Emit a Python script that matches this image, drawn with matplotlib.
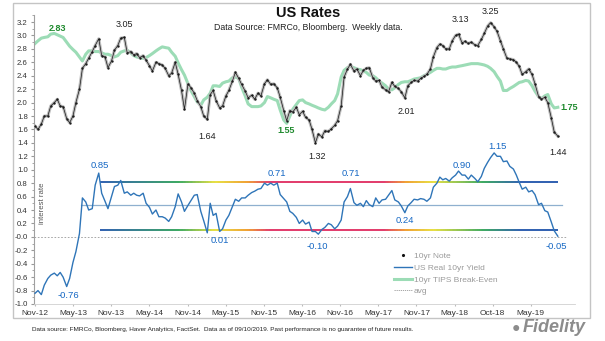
import numpy as np
import pandas as pd
import matplotlib
matplotlib.use("Agg")
import matplotlib.pyplot as plt
import matplotlib.dates as mdates
from matplotlib.collections import LineCollection
from matplotlib.colors import LinearSegmentedColormap
from matplotlib.lines import Line2D
from matplotlib.patches import Rectangle

plt.rcParams['font.family'] = ['Liberation Sans', 'DejaVu Sans']
plt.rcParams['axes.unicode_minus'] = False

# semi-monthly readings, Nov 2012 .. Sep 2019
dates = pd.date_range('2012-11-01', '2019-09-01', freq='SMS')

note_10yr = [
    1.65, 1.60, 1.68, 1.80, 1.80, 1.95, 2.00, 2.05, 1.95, 1.94,
    1.76, 1.70, 1.80, 2.00, 2.20, 2.51, 2.58, 2.66, 2.76, 2.85,
    2.95, 2.70, 2.68, 2.52, 2.62, 2.78, 2.85, 2.96, 2.97, 2.74,
    2.76, 2.71, 2.73, 2.67, 2.70, 2.63, 2.55, 2.47, 2.60, 2.58,
    2.56, 2.51, 2.40, 2.44, 2.60, 2.42, 2.18, 1.90, 2.28, 2.22,
    2.14, 2.03, 1.94, 1.80, 1.75, 2.12, 2.18, 2.03, 1.92, 1.95,
    2.10, 2.18, 2.32, 2.45, 2.36, 2.27, 2.17, 2.07, 2.11, 2.05,
    2.14, 2.10, 2.28, 2.34, 2.27, 2.28, 2.22, 2.08, 1.88, 1.73,
    1.88, 1.86, 1.93, 1.82, 1.87, 1.78, 1.74, 1.60, 1.40, 1.53,
    1.49, 1.58, 1.57, 1.61, 1.66, 1.73, 1.95, 2.38, 2.50, 2.57,
    2.47, 2.50, 2.40, 2.48, 2.51, 2.52, 2.37, 2.32, 2.33, 2.23,
    2.19, 2.16, 2.30, 2.24, 2.21, 2.16, 2.07, 2.25, 2.30, 2.33,
    2.32, 2.36, 2.39, 2.42, 2.50, 2.68, 2.82, 2.87, 2.85, 2.80,
    2.80, 2.92, 3.00, 3.02, 2.89, 2.91, 2.88, 2.90, 2.86, 2.85,
    2.94, 3.03, 3.14, 3.19, 3.13, 3.06, 2.92, 2.80, 2.66, 2.65,
    2.64, 2.60, 2.54, 2.42, 2.46, 2.50, 2.42, 2.28, 2.09, 2.05,
    2.08, 2.00, 1.77, 1.56, 1.50,
]

tips_breakeven = [
    2.88, 2.92, 2.96, 2.97, 2.98, 3.02, 3.03, 3.01, 2.99, 2.97,
    2.90, 2.84, 2.79, 2.75, 2.68, 2.62, 2.72, 2.77, 2.77, 2.76,
    2.76, 2.74, 2.72, 2.72, 2.70, 2.68, 2.70, 2.75, 2.77, 2.78,
    2.74, 2.70, 2.68, 2.67, 2.66, 2.67, 2.70, 2.73, 2.77, 2.80,
    2.83, 2.82, 2.81, 2.75, 2.69, 2.59, 2.49, 2.41, 2.28, 2.18,
    2.09, 2.01, 1.96, 2.04, 2.08, 2.14, 2.25, 2.25, 2.24, 2.29,
    2.31, 2.32, 2.37, 2.38, 2.36, 2.23, 2.10, 1.98, 1.94, 1.94,
    1.94, 1.95, 2.00, 2.09, 2.07, 2.05, 2.03, 1.89, 1.74, 1.69,
    1.80, 1.90, 1.97, 2.03, 2.04, 2.00, 1.98, 1.96, 1.94, 1.92,
    1.90, 1.89, 1.93, 1.98, 2.03, 2.13, 2.38, 2.48, 2.52, 2.54,
    2.52, 2.50, 2.49, 2.47, 2.45, 2.41, 2.40, 2.37, 2.32, 2.29,
    2.25, 2.20, 2.19, 2.22, 2.27, 2.30, 2.31, 2.31, 2.33, 2.35,
    2.36, 2.37, 2.40, 2.42, 2.45, 2.48, 2.51, 2.51, 2.50, 2.50,
    2.52, 2.53, 2.53, 2.54, 2.55, 2.56, 2.57, 2.58, 2.58, 2.58,
    2.57, 2.56, 2.54, 2.51, 2.46, 2.39, 2.32, 2.18, 2.18, 2.21,
    2.24, 2.27, 2.30, 2.31, 2.33, 2.32, 2.25, 2.17, 2.09, 2.06,
    2.10, 2.12, 1.98, 1.92, 1.93,
]

real_10yr = [
    -0.84, -0.80, -0.86, -0.72, -0.62, -0.57, -0.54, -0.58, -0.53, -0.60,
    -0.74, -0.62, -0.38, -0.22, 0.05, 0.58, 0.52, 0.40, 0.42, 0.77,
    0.95, 0.65, 0.53, 0.42, 0.60, 0.75, 0.77, 0.84, 0.65, 0.67,
    0.62, 0.65, 0.62, 0.61, 0.65, 0.50, 0.44, 0.34, 0.40, 0.30,
    0.30, 0.28, 0.23, 0.30, 0.45, 0.64, 0.52, 0.38, 0.47, 0.54,
    0.62, 0.63, 0.38, 0.24, 0.06, 0.50, 0.32, 0.35, 0.08, 0.12,
    0.25, 0.32, 0.45, 0.56, 0.53, 0.58, 0.58, 0.62, 0.66, 0.68,
    0.71, 0.72, 0.80, 0.77, 0.80, 0.77, 0.80, 0.63, 0.57, 0.52,
    0.38, 0.35, 0.29, 0.20, 0.25, 0.19, 0.22, 0.08, 0.08, 0.04,
    0.11, 0.14, 0.20, 0.18, 0.12, 0.16, 0.25, 0.52, 0.60, 0.72,
    0.51, 0.47, 0.50, 0.45, 0.54, 0.48, 0.45, 0.58, 0.50, 0.55,
    0.56, 0.62, 0.69, 0.55, 0.52, 0.46, 0.36, 0.46, 0.51, 0.56,
    0.55, 0.57, 0.56, 0.53, 0.58, 0.74, 0.80, 0.89, 0.85, 0.87,
    0.83, 0.88, 0.92, 0.98, 0.92, 0.92, 0.86, 0.92, 0.87, 0.82,
    0.90, 1.02, 1.11, 1.18, 1.25, 1.20, 1.20, 1.12, 1.13, 1.05,
    1.01, 0.92, 0.81, 0.71, 0.74, 0.67, 0.69, 0.63, 0.48, 0.50,
    0.39, 0.37, 0.22, 0.09, 0.01,
]

real_avg = 0.47
band_high = 0.82
band_low = 0.10

tick_dates = pd.date_range('2012-11-01', periods=14, freq='182D')
tick_labels = ['Nov-12', 'May-13', 'Nov-13', 'May-14', 'Nov-14', 'May-15', 'Nov-15',
               'May-16', 'Nov-16', 'May-17', 'Nov-17', 'May-18', 'Oct-18', 'May-19']

# callouts: (text, date, value)
black_notes = [('3.05', '2014-01-03', 3.17), ('1.64', '2015-02-01', 1.49),
               ('1.32', '2016-07-08', 1.19), ('2.01', '2017-09-09', 1.86),
               ('3.13', '2018-05-23', 3.24), ('3.25', '2018-10-13', 3.36),
               ('1.44', '2019-08-31', 1.26)]
green_notes = [('2.83', '2013-02-14', 3.11), ('1.55', '2016-02-11', 1.59)]
blue_notes = [('0.85', '2013-09-06', 1.07), ('-0.76', '2013-04-07', -0.88),
              ('0.01', '2015-04-03', -0.05), ('0.71', '2015-12-30', 0.95),
              ('0.71', '2016-12-16', 0.95), ('-0.10', '2016-07-12', -0.14),
              ('0.24', '2017-08-30', 0.24), ('0.90', '2018-06-02', 1.07),
              ('1.15', '2018-11-15', 1.34), ('-0.05', '2019-08-27', -0.15)]

W, H = 605, 341
fig = plt.figure(figsize=(W / 100, H / 100), dpi=100)
fig.patches.append(Rectangle((12.7 / W, 1 - 318 / H), (590 - 12.7) / W, (318 - 2.7) / H,
                             transform=fig.transFigure, fill=False, edgecolor='#c4c4c4', lw=1.0))

ax = fig.add_axes([34 / W, 37 / H, 541 / W, (304 - 15.3) / H])
ax.set_xlim(pd.Timestamp('2012-10-27'), pd.Timestamp('2019-11-22'))
ax.set_ylim(-1.0, 3.3)

blue = '#2f75b8'
green = '#9cdcb6'

ax.plot(dates, tips_breakeven, color=green, lw=2.2, zorder=2)
ax.plot(dates, note_10yr, color='#bdbdbd', lw=2.2, zorder=3)
ax.plot(dates, note_10yr, color='#1a1a1a', lw=0.5, marker='.', ms=1.4, zorder=4)

# dotted zero line and average
ax.plot([pd.Timestamp('2012-10-27'), pd.Timestamp('2019-10-12')], [0, 0],
        color='#999999', ls=(0, (2, 2)), lw=0.6, zorder=1)
ax.plot([pd.Timestamp('2013-06-10'), pd.Timestamp('2019-09-20')], [real_avg, real_avg],
        color='#8fb0cf', lw=0.9, zorder=2)

band_cmap = LinearSegmentedColormap.from_list('band', [
    (0.0, '#2f5fb0'), (0.17, '#3aa860'), (0.25, '#e8e040'), (0.32, '#f0a030'),
    (0.37, '#e23a6a'), (0.62, '#e23a6a'), (0.67, '#f0a030'), (0.73, '#e8e040'),
    (0.84, '#3aa860'), (0.92, '#2f5fb0'), (1.0, '#2f5fb0')])


def band_line(level, start='2013-09-07', end='2019-09-01'):
    x0 = mdates.date2num(pd.Timestamp(start))
    x1 = mdates.date2num(pd.Timestamp(end))
    xs = np.linspace(x0, x1, 400)
    pts = np.column_stack([xs, np.full_like(xs, level)])
    segs = np.stack([pts[:-1], pts[1:]], axis=1)
    lc = LineCollection(segs, cmap=band_cmap, linewidth=1.4, zorder=2)
    lc.set_array(np.linspace(0, 1, len(segs)))
    ax.add_collection(lc)


band_line(band_high)
band_line(band_low)

ax.plot(dates, real_10yr, color=blue, lw=1.0, zorder=5)

for txt, d, v in black_notes:
    ax.text(pd.Timestamp(d), v, txt, ha='center', va='center', fontsize=6.5, color='#222222')
for txt, d, v in green_notes:
    ax.text(pd.Timestamp(d), v, txt, ha='center', va='center', fontsize=6.5,
            color='#1f8a2e', fontweight='bold')
ax.text(pd.Timestamp('2019-09-14'), 1.93, '1.75', ha='left', va='center', fontsize=6.5,
        color='#1f8a2e', fontweight='bold')
for txt, d, v in blue_notes:
    ax.text(pd.Timestamp(d), v, txt, ha='center', va='center', fontsize=6.8,
            color='#1668c4')

ax.set_yticks(np.round(np.arange(-1.0, 3.21, 0.2), 1))
ax.set_yticklabels(['%.1f' % t for t in np.arange(-1.0, 3.21, 0.2)])
ax.set_yticks(np.arange(-1.0, 3.31, 0.1), minor=True)
ax.set_xticks(tick_dates)
ax.set_xticklabels(tick_labels)
ax.tick_params(axis='y', which='major', labelsize=5.6, length=2.5, color='#999999',
               labelcolor='#333333', pad=2)
ax.tick_params(axis='y', which='minor', length=1.5, color='#999999')
ax.tick_params(axis='x', labelsize=6, length=1.5, color='#bbbbbb', labelcolor='#333333', pad=3)
for s in ['top', 'right']:
    ax.spines[s].set_visible(False)
ax.spines['left'].set_color('#a0a0a0')
ax.spines['left'].set_linewidth(0.8)
ax.spines['bottom'].set_color('#d0d0d0')
ax.spines['bottom'].set_linewidth(0.6)

fig.text(43 / W, 1 - 203 / H, 'interest rate', rotation=90, ha='center', va='center',
         fontsize=5.6, color='#555555')

fig.text(308 / W, 1 - 13 / H, 'US Rates', ha='center', va='center', fontsize=10.5,
         fontweight='bold', color='#111111')
fig.text(308.5 / W, 1 - 27 / H, 'Data Source: FMRCo, Bloomberg.  Weekly data.',
         ha='center', va='center', fontsize=6.3, color='#222222')

handles = [
    Line2D([], [], ls='none', marker='.', ms=2.5, color='#111111'),
    Line2D([], [], color=blue, lw=1.0),
    Line2D([], [], color=green, lw=2.2),
    Line2D([], [], color='#999999', lw=0.6, ls=(0, (1.5, 1))),
]
labels = ['10yr Note', 'US Real 10yr Yield', '10yr TIPS Break-Even', 'avg']
fig.legend(handles, labels, loc='upper left', bbox_to_anchor=(394 / W, 1 - 252 / H),
           frameon=False, fontsize=6, labelcolor='#9a9a9a', handlelength=2.2,
           handletextpad=0.2, labelspacing=0.48, borderpad=0, borderaxespad=0)

fig.text(32 / W, 1 - 329 / H,
         'Data source: FMRCo, Bloomberg, Haver Analytics, FactSet.  Data as of 09/10/2019. '
         'Past performance is no guarantee of future results.',
         ha='left', va='center', fontsize=4.6, color='#222222')

fig.text(516 / W, 1 - 328 / H, '\u25cf', ha='center', va='center', fontsize=10, color='#8c8c8c')
fig.text(586 / W, 1 - 328 / H, 'Fidelity', ha='right', va='center', fontsize=13,
         fontweight='bold', fontstyle='italic', color='#8c8c8c')

fig.savefig('out.png', dpi=100)
